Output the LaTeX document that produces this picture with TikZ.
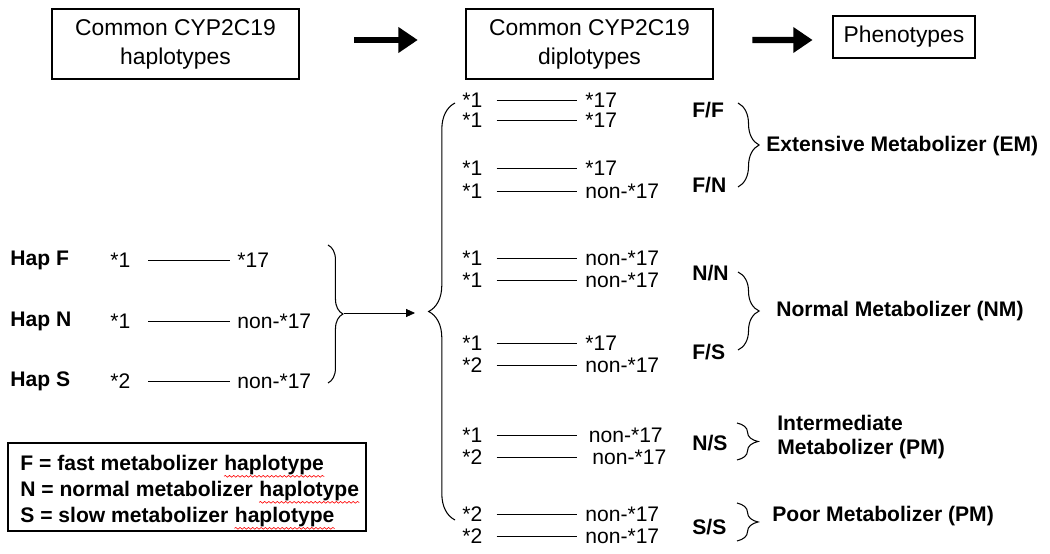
\documentclass[tikz,border=0pt]{standalone}
\usepackage{fontspec}
\setmainfont{Liberation Sans}
\usetikzlibrary{arrows.meta, decorations.pathreplacing, decorations.pathmorphing}
\tikzset{
    headbox/.style={draw=black, line width=0.9pt, align=center, font=\fontsize{13}{16.5}\selectfont},
    allele/.style={anchor=west, inner sep=0pt, font=\fontsize{12}{14}\selectfont},
    boldlab/.style={anchor=west, inner sep=0pt, align=left, font=\fontsize{12}{14}\selectfont\bfseries},
    bigarrow/.style={line width=3.5pt, -{Triangle[length=11pt, width=14pt]}},
    curly/.style={decorate, decoration={brace, amplitude=#1}, line width=0.6pt},
    curly/.default=12pt,
    squiggle/.style={draw=red, line width=0.35pt, decorate, decoration={snake, amplitude=0.5pt, segment length=2.4pt}},
}

\begin{document}
\begin{tikzpicture}[x=0.2mm, y=-0.2mm]
    \useasboundingbox (0,0) rectangle (1050,554);
    \newcommand\hapL{110}
    \newcommand\hapR{237}
    \newcommand\dipL{462}
    \newcommand\dipR{585}

    % headers
    \node[headbox, minimum width=49.4mm, minimum height=14mm] (hapbox) at (175.5, 44){Common CYP2C19\\haplotypes};
    \node[headbox, minimum width=49.4mm, minimum height=14mm] (dipbox) at (589.5, 44){Common CYP2C19\\diplotypes};
    \node[headbox, minimum width=28.5mm, minimum height=8.4mm] (phenbox) at (904, 37){Phenotypes};
    \draw[bigarrow, shorten <=31pt, shorten >=27pt] ([yshift=0.8mm]hapbox.east) -- ([yshift=0.8mm]dipbox.west);
    \draw[bigarrow, shorten <=22pt, shorten >=11pt] ([yshift=0.8mm]dipbox.east) -- ([yshift=-0.6mm]phenbox.west);

    % haplotypes
    \foreach \k/\y/\a/\b in {F/260/*1/*17, N/321/*1/non-*17, S/381/*2/non-*17}{
        \node[boldlab] (hap\k) at (10, \y){Hap \k};
        \node[allele] (hl\k) at (\hapL, \y){\a};
        \node[allele] (hr\k) at (\hapR, \y){\b};
        \draw[shorten <=10pt, shorten >=4pt] (hl\k) -- (hr\k);
    }
    \draw[curly=8.5pt] (328, 245) -- (328, 383);
    \coordinate (haptip) at (344, 313);
    \coordinate (dipin) at (415, 313);
    \draw[-{Triangle[length=5pt, width=4.5pt]}] (haptip) -- (dipin);

    % diplotypes
    \draw[curly=15pt] (455, 520) -- (455, 103);
    \foreach \i/\y/\a/\b in {1/100/*1/*17, 2/120/*1/*17, 3/168/*1/*17, 4/191/*1/non-*17,
        5/258/*1/non-*17, 6/280/*1/non-*17, 7/343/*1/*17, 8/365/*2/non-*17,
        9/435/*1/{\kern2pt non-*17}, 10/457/*2/{\kern4pt non-*17}, 11/514/*2/non-*17, 12/536/*2/non-*17}{
        \node[allele] (dl\i) at (\dipL, \y){\a};
        \node[allele] (dr\i) at (\dipR, \y){\b};
        \draw[shorten <=8pt, shorten >=4.5pt] (dl\i) -- (dr\i);
    }

    % pairs and phenotypes
    \node[boldlab] (ff) at (692, 110){F/F};
    \node[boldlab] (fn) at (692, 185){F/N};
    \node[boldlab] (nn) at (692, 273){N/N};
    \node[boldlab] (fs) at (692, 352){F/S};
    \node[boldlab] (ns) at (692, 443){N/S};
    \node[boldlab] (ss) at (692, 527){S/S};
    \draw[curly] (738, 103) -- (738, 187);
    \draw[curly] (738, 272) -- (738, 350);
    \draw[curly] (737, 423) -- (737, 460);
    \draw[curly] (737, 503) -- (737, 541);
    \node[boldlab] (em) at (766, 146){Extensive Metabolizer (EM)};
    \node[boldlab] (nm) at (776, 311){Normal Metabolizer (NM)};
    \node[boldlab] (im) at (777, 437){Intermediate\\Metabolizer (PM)};
    \node[boldlab] (pm) at (772, 516){Poor Metabolizer (PM)};

    % legend
    \node[draw=black, line width=0.8pt, minimum width=71.6mm, minimum height=17.6mm] (legend) at (187, 487){};
    \foreach \k/\y/\t in {F/463/F = fast metabolizer, N/489/N = normal metabolizer, S/515/S = slow metabolizer}{
        \node[boldlab] (leg\k) at (20, \y){\t};
        \node[boldlab, anchor=base west, xshift=3.3pt] (word\k) at (leg\k.base east){haplotype};
        \draw[squiggle] ([yshift=-0.6pt]word\k.south west) -- ([yshift=-0.6pt]word\k.south east);
    }
\end{tikzpicture}
\end{document}
